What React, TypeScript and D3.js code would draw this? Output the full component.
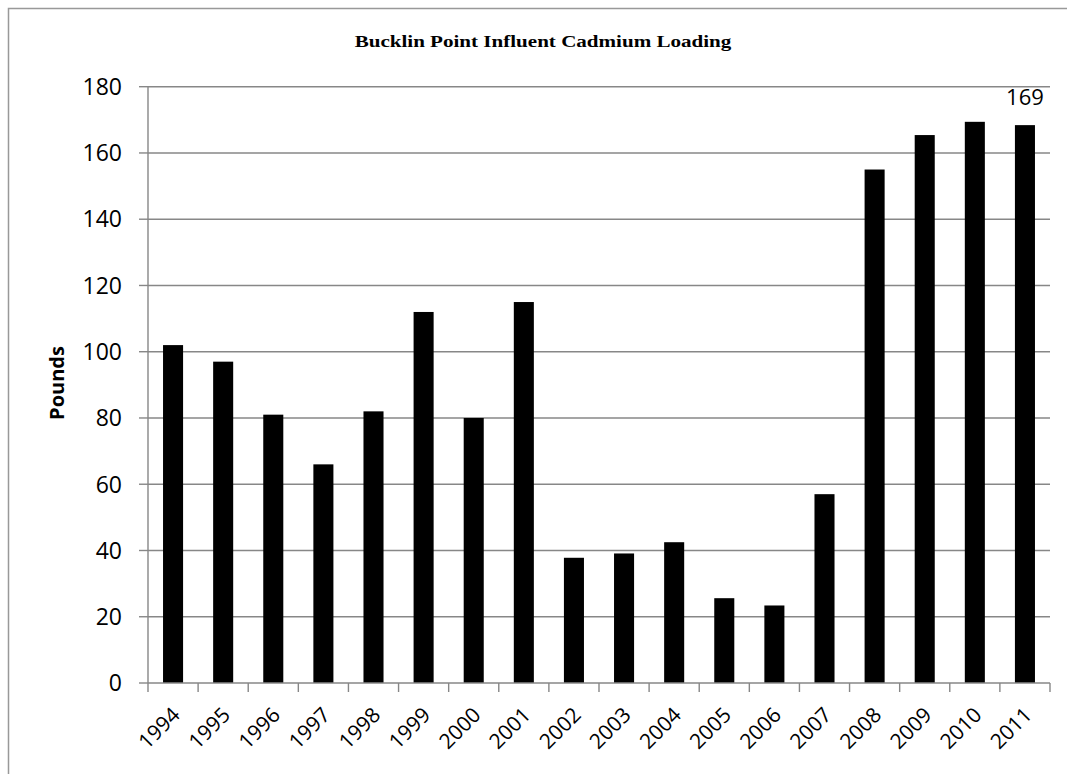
import React from "react";
import * as d3 from "d3";

const years = ["1994","1995","1996","1997","1998","1999","2000","2001","2002","2003","2004","2005","2006","2007","2008","2009","2010","2011"];
const pounds = [102, 97, 81, 66, 82, 112, 80, 115, 37.8, 39.1, 42.5, 25.6, 23.4, 57, 155, 165.4, 169.4, 168.4];
const yTicks = [0, 20, 40, 60, 80, 100, 120, 140, 160, 180];
const title = "Bucklin Point Influent Cadmium Loading";
const yLabel = "Pounds";
const annotation = { index: 17, text: "169" };

const W = 1067, H = 774;
const plot = { left: 148, right: 1050, top: 86.7, bottom: 683 };

export default function App() {
  const x = d3.scaleBand<string>().domain(years).range([plot.left, plot.right]).paddingInner(0.6).paddingOuter(0.3);
  const y = d3.scaleLinear().domain([0, 180]).range([plot.bottom, plot.top]);
  const step = x.step();
  const font = "'Open Sans', 'DejaVu Sans', sans-serif";
  const grid = "#878787";
  return (
    <svg width={W} height={H} style={{ position: "fixed", left: 0, top: 0, background: "#fff" }}>
      <rect x={8.5} y={8.5} width={1100} height={800} fill="#fff" stroke="#999" strokeWidth={1.5} />
      <text transform="translate(543,47) scale(1.24,1)" textAnchor="middle" fontFamily="'Liberation Serif', 'Times New Roman', serif" fontWeight="bold" fontSize={17} fill="#000">{title}</text>
      {yTicks.map((t) => (
        <g key={t}>
          {t > 0 && <line x1={plot.left} x2={plot.right} y1={y(t)} y2={y(t)} stroke={grid} strokeWidth={1.4} />}
          <line x1={plot.left - 9} x2={plot.left} y1={y(t)} y2={y(t)} stroke={grid} strokeWidth={1.4} />
          <text x={122} y={y(t)} dy="0.36em" textAnchor="end" fontFamily={font} fontSize={23} fill="#000">{t}</text>
        </g>
      ))}
      {years.map((yr, i) => (
        <rect key={yr} x={x(yr)!} y={y(pounds[i])} width={x.bandwidth()} height={plot.bottom - y(pounds[i])} fill="#000" />
      ))}
      <line x1={plot.left} x2={plot.left} y1={plot.top} y2={plot.bottom} stroke={grid} strokeWidth={1.4} />
      <line x1={plot.left} x2={plot.right} y1={plot.bottom} y2={plot.bottom} stroke={grid} strokeWidth={1.4} />
      {d3.range(years.length + 1).map((k) => (
        <line key={k} x1={plot.left + k * step} x2={plot.left + k * step} y1={plot.bottom} y2={plot.bottom + 9} stroke={grid} strokeWidth={1.4} />
      ))}
      {years.map((yr) => {
        const cx = x(yr)! + x.bandwidth() / 2 + 3;
        const cy = plot.bottom + 28;
        return (
          <text key={yr} transform={`translate(${cx},${cy}) rotate(-45)`} textAnchor="end" dy="0.35em" fontFamily={font} fontSize={21} fill="#000">{yr}</text>
        );
      })}
      <text x={x(years[annotation.index])! + x.bandwidth() / 2} y={y(pounds[annotation.index]) - 20} textAnchor="middle" fontFamily={font} fontSize={22} fill="#000">{annotation.text}</text>
      <text transform={`translate(64,383) rotate(-90)`} textAnchor="middle" fontFamily={font} fontWeight="bold" fontSize={20} fill="#000">{yLabel}</text>
    </svg>
  );
}
